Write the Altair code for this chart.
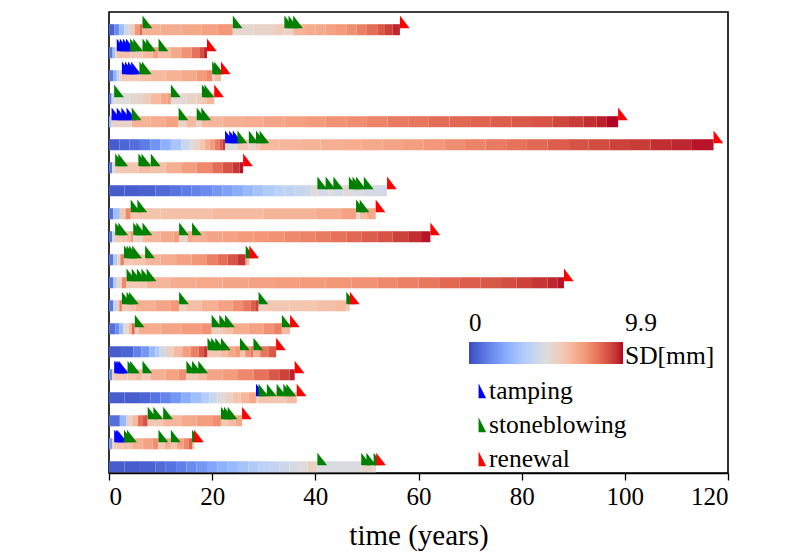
import altair as alt
import numpy as np
import pandas as pd

# ---------------- data ----------------
# knots: (time in years, SD in mm) ; each stripe runs from one knot to the next,
# the last stripe ends at the renewal time
r01_knots = [(0, 0.5), (1, 1.5), (2, 3.0), (3, 4.5), (4, 5.8), (5, 7.5), (6, 8.5), (6.5, 6.8), (10, 6.9),
             (14, 7.0), (18, 7.2), (21, 7.5), (24, 5.3), (28, 5.5), (32, 5.8), (34, 5.5), (35.7, 6.7),
             (38, 6.9), (40, 7.0), (42, 7.2), (44, 7.4), (46, 7.7), (48, 8.0), (50, 8.4), (52, 8.8),
             (53.5, 9.2), (55, 9.6)]
r01_tamp, r01_stone, r01_renew = [], [6.5, 24.0, 34.0, 34.8, 35.7], 56.4

r02_knots = [(0, 1.0), (0.7, 3.0), (1.2, 5.5), (1.5, 6.3), (4.1, 6.0), (6.5, 6.5), (8.5, 7.3), (9.6, 6.4),
             (12, 7.0), (14, 7.6), (16, 8.3), (17.5, 9.0), (18.4, 9.6)]
r02_tamp, r02_stone, r02_renew = [1.5, 2.1, 2.7, 3.3], [4.1, 4.7, 6.5, 7.2, 9.6], 19.0

r03_knots = [(0, 1.0), (0.8, 2.5), (1.5, 4.0), (2.0, 5.5), (2.5, 6.0), (5.9, 6.3), (8, 6.5), (11, 6.7),
             (14, 7.0), (17, 7.4), (19, 7.8), (20.0, 5.8), (20.5, 6.5)]
r03_tamp, r03_stone, r03_renew = [2.5, 3.1, 3.7, 4.3], [5.9, 6.4, 20.0, 20.4], 21.7

r04_knots = [(0, 1.0), (0.5, 4.5), (1.0, 5.0), (4, 5.3), (6.6, 5.8), (8, 6.5), (10, 7.0), (11.3, 7.4),
             (12.0, 5.2), (15, 5.5), (17, 5.8), (18.0, 6.0), (19, 6.6)]
r04_tamp, r04_stone, r04_renew = [], [1.0, 12.0, 18.0, 18.5], 20.4

r05_knots = [(0, 3.0), (0.5, 5.5), (4.4, 6.7), (8, 6.9), (11, 7.2), (13.5, 5.5), (15, 6.5), (17.0, 5.5),
             (17.9, 6.6), (22, 6.8), (26, 6.9), (30, 7.1), (34, 7.2), (38, 7.4), (42, 7.6), (46, 7.7),
             (50, 7.9), (54, 8.1), (58, 8.2), (62, 8.4), (66, 8.5), (70, 8.6), (74, 8.7), (78, 8.8),
             (82, 8.9), (86, 9.1), (89, 9.3), (92, 9.5), (94.5, 9.7), (96.5, 9.9)]
r05_tamp, r05_stone, r05_renew = [0.5, 1.5, 2.4, 3.4], [4.4, 13.5, 17.0, 17.9], 98.7

r06_knots = [(0, 0.4), (2, 0.6), (4, 0.8), (6, 1.1), (8, 1.7), (10, 2.5), (12, 3.3), (14, 4.2), (15.5, 4.9),
             (16.5, 5.5), (17.5, 6.1), (18.5, 6.8), (19.5, 7.4), (20.5, 8.1), (21.4, 8.8), (22, 9.4),
             (22.5, 5.0), (25, 6.0), (27, 5.5), (28.5, 6.0), (29.2, 6.5), (33, 6.6), (37, 6.7), (41, 6.8),
             (45, 6.9), (49, 7.0), (53, 7.1), (57, 7.3), (61, 7.5), (65, 7.7), (69, 7.9), (73, 8.1),
             (77, 8.3), (81, 8.5), (85, 8.7), (89, 8.9), (93, 9.0), (97, 9.2), (101, 9.3), (105, 9.5),
             (109, 9.6), (113, 9.8)]
r06_tamp, r06_stone, r06_renew = [22.5, 23.3, 24.0], [24.9, 27.1, 28.5, 29.2], 117.2

r07_knots = [(0, 1.0), (0.6, 5.0), (1.2, 6.0), (5.7, 6.5), (8.1, 6.3), (11, 6.8), (14, 7.3), (17, 7.8),
             (20, 8.4), (22, 8.9), (24, 9.4), (25.3, 9.8)]
r07_tamp, r07_stone, r07_renew = [], [1.2, 1.8, 5.7, 6.3, 8.1], 26.0

r08_knots = [(0, 0.4), (3, 0.4), (6, 0.5), (9, 0.7), (12, 0.9), (14, 1.1), (16, 1.3), (18, 1.5), (20, 1.8),
             (22, 2.1), (24, 2.4), (26, 2.8), (28, 3.2), (30, 3.5), (32, 3.8), (34, 4.0), (36, 4.2),
             (38, 4.4), (39.3, 5.2), (40.4, 4.6), (42.5, 5.0), (43.5, 4.6), (45.5, 5.3), (46.5, 4.8),
             (49.4, 4.6)]
r08_tamp, r08_stone, r08_renew = [], [40.4, 42.0, 43.5, 46.5, 47.2, 47.9, 49.4], 53.9

r09_knots = [(0, 0.8), (0.8, 3.0), (2.1, 6.0), (3.2, 7.8), (4.2, 6.2), (10, 6.3), (20, 6.5), (30, 6.7),
             (40, 6.9), (45, 7.2), (47.9, 5.5), (48.6, 6.5), (50, 7.0)]
r09_tamp, r09_stone, r09_renew = [], [4.2, 5.5, 47.9, 48.6], 51.7

r10_knots = [(0, 1.0), (0.6, 4.5), (1.2, 6.0), (3.5, 6.5), (4.2, 7.5), (4.7, 5.5), (6.5, 6.6), (10, 7.0),
             (12.5, 7.4), (13.6, 5.5), (15.2, 7.0), (16.1, 6.8), (19, 7.1), (22, 7.2), (25, 7.4), (28, 7.5),
             (31, 7.6), (34, 7.8), (37, 7.9), (40, 8.1), (43, 8.3), (46, 8.5), (49, 8.7), (52, 8.9),
             (55, 9.2), (58, 9.5), (60.5, 9.8)]
r10_tamp, r10_stone, r10_renew = [], [1.2, 1.8, 4.7, 5.3, 6.5, 13.6, 16.1], 62.3

r11_knots = [(0, 1.0), (0.8, 3.5), (1.6, 5.5), (2.2, 8.0), (2.9, 6.0), (4.5, 6.2), (7.0, 6.6), (10, 6.9),
             (13, 7.2), (16, 7.5), (19, 8.0), (21, 8.4), (23, 8.9), (25, 9.4), (26.5, 6.5)]
r11_tamp, r11_stone, r11_renew = [], [2.9, 3.4, 3.9, 4.5, 7.0, 26.5], 27.2

r12_knots = [(0, 1.0), (0.8, 3.5), (1.5, 5.5), (2.5, 7.8), (3.4, 6.0), (7.3, 6.6), (12, 6.9), (17, 7.0),
             (22, 7.1), (27, 7.2), (32, 7.3), (37, 7.4), (42, 7.5), (47, 7.6), (52, 7.8), (56, 8.0),
             (60, 8.2), (64, 8.5), (68, 8.7), (72, 8.8), (76, 9.0), (79, 9.2), (82, 9.4), (85, 9.6), (87, 9.8)]
r12_tamp, r12_stone, r12_renew = [], [3.4, 4.4, 5.4, 6.3, 7.3], 88.2

r13_knots = [(0, 1.0), (0.8, 4.0), (1.6, 6.0), (2.0, 8.0), (2.5, 6.0), (3.9, 6.3), (5.2, 6.8), (9, 7.1),
             (12, 7.5), (13.6, 5.8), (15.1, 6.3), (18, 6.8), (21, 7.2), (24, 7.7), (26, 8.2), (27.5, 8.7),
             (28.5, 9.2), (29.0, 5.8), (30.6, 6.0), (35, 6.1), (40, 6.3), (44, 6.5), (46.0, 6.0)]
r13_tamp, r13_stone, r13_renew = [], [2.5, 3.4, 3.9, 13.6, 29.0, 46.0], 46.7

r14_knots = [(0, 0.8), (1.2, 1.5), (2.0, 2.8), (2.8, 5.2), (3.8, 6.5), (4.4, 8.5), (5.0, 6.0), (5.8, 6.9),
             (10, 7.1), (14, 7.3), (18, 7.6), (19.9, 5.8), (21.4, 6.0), (22.5, 6.3), (24, 6.9), (27, 7.2),
             (30, 7.6), (32, 8.0), (33.5, 6.5)]
r14_tamp, r14_stone, r14_renew = [], [5.0, 19.9, 21.4, 22.5, 33.5], 35.1

r15_knots = [(0, 0.4), (2.5, 0.6), (4.7, 1.2), (6.3, 1.8), (7.8, 2.8), (9.0, 3.5), (9.7, 4.5), (11, 5.7),
             (12.6, 6.5), (14.2, 7.3), (15.8, 8.0), (17.4, 8.8), (18.4, 9.4), (19.1, 6.0), (21.7, 6.5),
             (23, 7.0), (24.3, 7.4), (25.4, 6.2), (26.4, 7.6), (27.4, 8.2), (28.0, 6.8), (29.3, 8.2), (31, 8.8)]
r15_tamp, r15_stone, r15_renew = [], [19.1, 19.8, 20.6, 21.7, 25.4, 28.0], 32.4

r16_knots = [(0, 1.5), (0.6, 5.5), (1.0, 6.0), (3.6, 6.2), (5.0, 6.5), (6.5, 6.0), (8.1, 6.8), (11, 7.2),
             (13.5, 7.7), (15.0, 6.0), (17.3, 6.5), (19, 7.1), (22, 7.4), (25, 7.8), (28, 8.3), (31, 8.8),
             (33, 9.2), (35, 9.7)]
r16_tamp, r16_stone, r16_renew = [1.0, 1.3, 1.6, 1.9], [3.6, 4.1, 6.5, 15.0, 16.1, 17.3], 36.0

r17_knots = [(0, 0.4), (3, 0.4), (6, 0.6), (8, 0.9), (10, 1.3), (12, 1.8), (14, 2.4), (16, 3.0), (18, 3.6),
             (19.5, 4.3), (21, 5.0), (22.5, 5.6), (24, 6.2), (25.5, 6.6), (27, 7.0), (28.5, 5.5), (29, 6.2),
             (32, 6.0), (34.4, 6.5)]
r17_tamp, r17_stone, r17_renew = [28.5], [29.0, 30.6, 32.5, 33.8, 34.4], 36.4

r18_knots = [(0, 0.8), (2.1, 2.8), (3.4, 5.5), (4.5, 6.5), (5.6, 8.3), (6.6, 8.9), (7.5, 6.0), (10.5, 6.6),
             (14, 7.0), (17, 7.3), (20, 7.7), (21.7, 6.0), (23.0, 6.5), (24.5, 7.0)]
r18_tamp, r18_stone, r18_renew = [], [7.5, 8.6, 10.5, 21.7, 22.3, 23.0], 25.8

r19_knots = [(0, 2.0), (0.6, 5.5), (1.0, 6.0), (2.9, 6.3), (4.5, 6.8), (6.5, 7.2), (8.5, 7.7), (9.6, 6.0),
             (10.8, 6.8), (12.0, 6.2), (13.2, 7.2), (14.5, 7.8), (15.5, 8.6), (16.1, 6.5)]
r19_tamp, r19_stone, r19_renew = [1.0, 1.3, 1.6], [2.9, 3.5, 9.6, 12.0, 16.1], 16.5

r20_knots = [(0, 0.4), (3, 0.4), (6, 0.5), (9, 0.7), (11, 0.9), (13, 1.2), (15, 1.5), (17, 1.8), (19, 2.2),
             (21, 2.5), (23, 2.8), (25, 3.2), (27, 3.5), (29, 3.8), (31, 4.1), (33, 4.4), (35, 4.7),
             (37, 5.0), (38.5, 5.6), (40.4, 4.8), (48.9, 5.4), (51.3, 5.2)]
r20_tamp, r20_stone, r20_renew = [], [40.4, 48.9, 49.9, 51.3], 51.8

rows = [
    (r01_knots, r01_tamp, r01_stone, r01_renew), (r02_knots, r02_tamp, r02_stone, r02_renew),
    (r03_knots, r03_tamp, r03_stone, r03_renew), (r04_knots, r04_tamp, r04_stone, r04_renew),
    (r05_knots, r05_tamp, r05_stone, r05_renew), (r06_knots, r06_tamp, r06_stone, r06_renew),
    (r07_knots, r07_tamp, r07_stone, r07_renew), (r08_knots, r08_tamp, r08_stone, r08_renew),
    (r09_knots, r09_tamp, r09_stone, r09_renew), (r10_knots, r10_tamp, r10_stone, r10_renew),
    (r11_knots, r11_tamp, r11_stone, r11_renew), (r12_knots, r12_tamp, r12_stone, r12_renew),
    (r13_knots, r13_tamp, r13_stone, r13_renew), (r14_knots, r14_tamp, r14_stone, r14_renew),
    (r15_knots, r15_tamp, r15_stone, r15_renew), (r16_knots, r16_tamp, r16_stone, r16_renew),
    (r17_knots, r17_tamp, r17_stone, r17_renew), (r18_knots, r18_tamp, r18_stone, r18_renew),
    (r19_knots, r19_tamp, r19_stone, r19_renew), (r20_knots, r20_tamp, r20_stone, r20_renew),
]

event_names = ["tamping", "stoneblowing", "renewal"]
event_colors = ["#0000ff", "#008000", "#ff0000"]
sd_max = 9.9
sd_max_label = "9.9"
sd_title = "SD[mm]"
coolwarm = ["#3b4cc0", "#6282ea", "#8db0fe", "#b8d0f9", "#dddddd",
            "#f5c4ad", "#f49a7b", "#de604d", "#b40426"]

# ---------------- build tables ----------------
n_rows = len(rows)
seg_records, ev_records = [], []
for i, (knots, tamp, stone, renew) in enumerate(rows):
    lvl = n_rows - 1 - i
    for j, (t, sd) in enumerate(knots):
        t_next = knots[j + 1][0] if j + 1 < len(knots) else renew
        seg_records.append({"row": lvl, "t0": t, "t1": t_next, "sd": sd})
for k, name in enumerate(event_names):
    for i, (knots, tamp, stone, renew) in enumerate(rows):
        lvl = n_rows - 1 - i
        times = [tamp, stone, [renew]][k]
        for t in times:
            ev_records.append({"row": lvl, "t": t, "event": name, "order": k})

segs = pd.DataFrame(seg_records)
events = pd.DataFrame(ev_records)

FONT = "Liberation Serif"
x_scale = alt.Scale(domain=[0, 120], nice=False, zero=False)
y_scale = alt.Scale(domain=[-0.27, n_rows - 1 + 0.77], nice=False, zero=False)
sd_stops = list(np.linspace(0, sd_max, len(coolwarm)))

bars = alt.Chart(segs).transform_calculate(
    ytop="datum.row + 0.24", ybot="datum.row - 0.24"
).mark_rect().encode(
    x=alt.X("t0:Q", scale=x_scale,
            axis=alt.Axis(values=[0, 20, 40, 60, 80, 100, 120], title="time (years)", grid=False,
                          labelFont=FONT, labelFontSize=25, labelColor="black", labelPadding=4,
                          tickSize=7, tickColor="black", tickWidth=1.3,
                          domainColor="black", domainWidth=1.5,
                          titleFont=FONT, titleFontSize=29, titleFontWeight="normal",
                          titleColor="black", titlePadding=12)),
    x2="t1:Q",
    y=alt.Y("ytop:Q", scale=y_scale, axis=None),
    y2="ybot:Q",
    color=alt.Color("sd:Q",
                    scale=alt.Scale(type="linear", domain=sd_stops, range=coolwarm, clamp=True),
                    legend=alt.Legend(orient="none", legendX=360, legendY=330, direction="horizontal",
                                      gradientLength=154, gradientThickness=22, gradientStrokeWidth=0,
                                      values=[0], format=".1~f",
                                      labelOffset={"expr": "-53"},
                                      labelFont=FONT, labelFontSize=25, labelColor="black",
                                      title=[sd_max_label, sd_title], titleOrient="right",
                                      titleAnchor="end", titleAlign="left", titleLineHeight=33,
                                      titleBaseline="alphabetic", titlePadding=2,
                                      titleFont=FONT, titleFontSize=25.5, titleFontWeight="normal",
                                      titleColor="black")),
)

markers = alt.Chart(events).mark_point(
    shape="M0,-1.45L0,-0.15L1,-0.15Z", filled=True, size=380, opacity=1, strokeWidth=0
).encode(
    x=alt.X("t:Q", scale=x_scale),
    y=alt.Y("row:Q", scale=y_scale),
    color=alt.Color("event:N",
                    scale=alt.Scale(domain=event_names, range=event_colors),
                    legend=alt.Legend(orient="none", legendX=360.6, legendY=366, title=None,
                                      symbolType="M-0.5,-1L-0.5,1L0.5,1Z", symbolSize=230,
                                      symbolStrokeWidth=0, labelOffset={"expr": "-6"}, rowPadding=7,
                                      labelFont=FONT, labelFontSize=25.5, labelColor="black")),
    order=alt.Order("order:Q"),
)

chart = alt.layer(bars, markers).resolve_scale(color="independent").properties(
    width=619, height=461,
    autosize=alt.AutoSizeParams(type="none"),
    padding={"left": 101, "top": 4, "right": 57, "bottom": 80},
).configure(background="white", view=alt.ViewConfig(stroke="black", strokeWidth=1.6))

chart.save("out.html", embed_options={"renderer": "svg", "actions": False})
